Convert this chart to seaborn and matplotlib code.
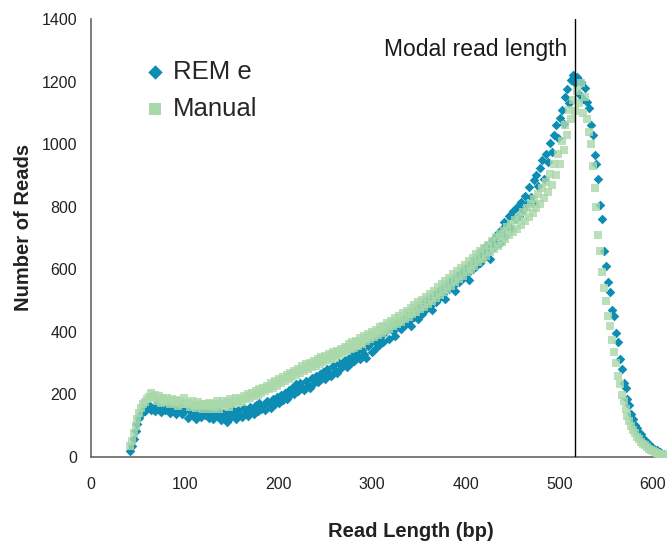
import numpy as np
import pandas as pd
import matplotlib
matplotlib.use("Agg")
import matplotlib.pyplot as plt
import seaborn as sns

# read length bins (bp), one every 2 bp from 40 to 600
read_length = np.arange(40, 601, 2)

# number of reads per bin
rem_e = [
    18, 34, 58, 82, 104, 126, 138, 150, 147, 156,
    165, 150, 158, 146, 168, 152, 144, 160, 149, 157,
    162, 140, 153, 158, 136, 150, 161, 139, 147, 155,
    125, 148, 133, 142, 122, 146, 137, 128, 151, 134,
    140, 124, 147, 120, 135, 150, 128, 118, 141, 133,
    112, 145, 126, 152, 134, 121, 149, 136, 127, 156,
    142, 131, 160, 149, 138, 166, 147, 172, 155, 163,
    150, 178, 168, 157, 186, 170, 192, 174, 198, 181,
    205, 186, 214, 197, 222, 201, 232, 210, 238, 219,
    215, 244, 230, 221, 252, 235, 258, 241, 266, 248,
    272, 250, 281, 266, 258, 290, 276, 268, 300, 283,
    296, 310, 288, 318, 302, 326, 306, 335, 322, 312,
    342, 328, 318, 356, 365, 336, 372, 350, 380, 362,
    390, 366, 398, 410, 376, 418, 402, 386, 430, 414,
    408, 440, 422, 452, 434, 418, 462, 446, 470, 440,
    480, 458, 494, 472, 506, 484, 470, 518, 496, 528,
    512, 540, 522, 505, 552, 538, 566, 545, 530, 578,
    560, 590, 572, 604, 585, 565, 618, 600, 632, 612,
    645, 620, 662, 640, 676, 655, 632, 690, 670, 705,
    715, 684, 730, 752, 706, 745, 770, 728, 785, 760,
    798, 770, 815, 790, 835, 808, 862, 830, 812, 885,
    900, 865, 925, 948, 890, 970, 942, 1005, 975, 1030,
    1060, 1020, 1085, 1110, 1065, 1150, 1175, 1130, 1205, 1222,
    1195, 1215, 1160, 1200, 1145, 1180, 1135, 1115, 1060, 1030,
    965, 935, 890, 805, 760, 660, 612, 558, 528, 470,
    450, 395, 368, 312, 282, 238, 222, 184, 166, 138,
    122, 103, 94, 78, 72, 58, 53, 44, 41, 33,
    30, 23, 21, 16, 15, 11, 11, 7, 8, 5,
    4,
]

manual = [
    35, 52, 78, 98, 122, 140, 158, 168, 176, 184,
    192, 205, 188, 198, 180, 194, 172, 188, 176, 190,
    178, 168, 186, 172, 182, 164, 180, 170, 187, 168,
    172, 160, 178, 166, 158, 175, 163, 170, 154, 168,
    162, 174, 155, 170, 160, 178, 152, 168, 180, 162,
    175, 160, 184, 168, 178, 190, 172, 186, 176, 195,
    184, 200, 188, 206, 194, 212, 198, 218, 204, 222,
    210, 228, 216, 236, 222, 242, 228, 250, 236, 256,
    244, 262, 250, 270, 256, 276, 262, 282, 268, 290,
    276, 296, 282, 300, 288, 308, 292, 314, 298, 320,
    304, 324, 310, 330, 314, 336, 318, 340, 326, 346,
    332, 352, 338, 360, 344, 366, 350, 372, 356, 380,
    362, 386, 370, 392, 376, 398, 382, 406, 390, 414,
    396, 420, 402, 428, 410, 436, 418, 444, 426, 452,
    432, 460, 440, 468, 448, 476, 456, 486, 464, 494,
    472, 502, 480, 512, 490, 522, 498, 532, 508, 542,
    518, 552, 528, 562, 538, 572, 548, 584, 558, 594,
    570, 604, 580, 614, 592, 626, 602, 636, 612, 648,
    622, 658, 634, 668, 644, 678, 654, 690, 664, 702,
    674, 712, 686, 722, 696, 734, 708, 744, 720, 756,
    730, 768, 742, 782, 754, 796, 768, 810, 780, 826,
    795, 842, 810, 860, 828, 880, 848, 905, 870, 935,
    900, 968, 935, 1010, 980, 1060, 1030, 1110, 1080, 1140,
    1105, 1170, 1130, 1195, 1100, 1150, 1080, 1040, 1000, 930,
    860, 800, 710, 660, 590, 540, 500, 450, 420, 375,
    335, 300, 258, 232, 198, 178, 152, 132, 114, 100,
    86, 76, 65, 57, 49, 43, 37, 32, 27, 23,
    19, 16, 14, 11, 9, 8, 6, 5, 4, 3,
    2,
]

x_ticks = [0, 100, 200, 300, 400, 500, 600]
y_ticks = [0, 200, 400, 600, 800, 1000, 1200, 1400]
modal_length = 500

df = pd.DataFrame({"length": read_length, "REM e": rem_e, "Manual": manual})

sns.set_style("white")
plt.rcParams["font.family"] = ["Liberation Sans", "DejaVu Sans"]

fig = plt.figure(figsize=(6.67, 5.41), dpi=100)
ax = fig.add_axes([91 / 667, 84 / 541, 581 / 667, 438 / 541])

sns.scatterplot(data=df, x="length", y="REM e", marker="D", s=24, color="#0d8db3",
                linewidth=0, label="REM e", legend=False, ax=ax, zorder=2)
sns.scatterplot(data=df, x="length", y="Manual", marker="s", s=36, color="#a9d8a9",
                alpha=0.8, linewidth=0, label="Manual", legend=False, ax=ax, zorder=3)

ax.axvline(modal_length, color="black", lw=1, zorder=4)
ax.text(modal_length - 8, 1302, "Modal read length", ha="right", va="center",
        fontsize=16.5, color="#1a1a1a")

ax.set_xlim(0, 600)
ax.set_ylim(0, 1400)
ax.set_xticks(x_ticks)
ax.set_xticklabels([])
ax.set_yticks(y_ticks)
ax.tick_params(axis="both", direction="out", length=5, width=1, colors="#666666",
               labelcolor="#222222", labelsize=11.5)
ax.tick_params(axis="y", pad=5)
# the x labels in the original sit slightly left of their ticks
for t in x_ticks:
    ax.text(t * 0.967, -0.062, str(t), transform=ax.get_xaxis_transform(),
            ha="center", va="center", fontsize=11.5, color="#222222")
for side in ["top", "right"]:
    ax.spines[side].set_visible(False)
for side in ["left", "bottom"]:
    ax.spines[side].set_color("#666666")
    ax.spines[side].set_linewidth(1.2)

ax.set_xlabel("Read Length (bp)", fontsize=14.5, fontweight="bold", color="#222222")
ax.set_ylabel("Number of Reads", fontsize=14.5, fontweight="bold", color="#222222")
ax.xaxis.set_label_coords(0.551, -0.149)
ax.yaxis.set_label_coords(-0.1, 0.524)

leg = ax.legend(loc="upper left", bbox_to_anchor=(0.075, 0.93), frameon=False,
                fontsize=18.5, markerscale=1.5, handlelength=0.8, handletextpad=0.3,
                labelspacing=0.5, borderaxespad=0)
for h in leg.legend_handles:
    h.set_alpha(1)

fig.savefig("out.png", dpi=100)
